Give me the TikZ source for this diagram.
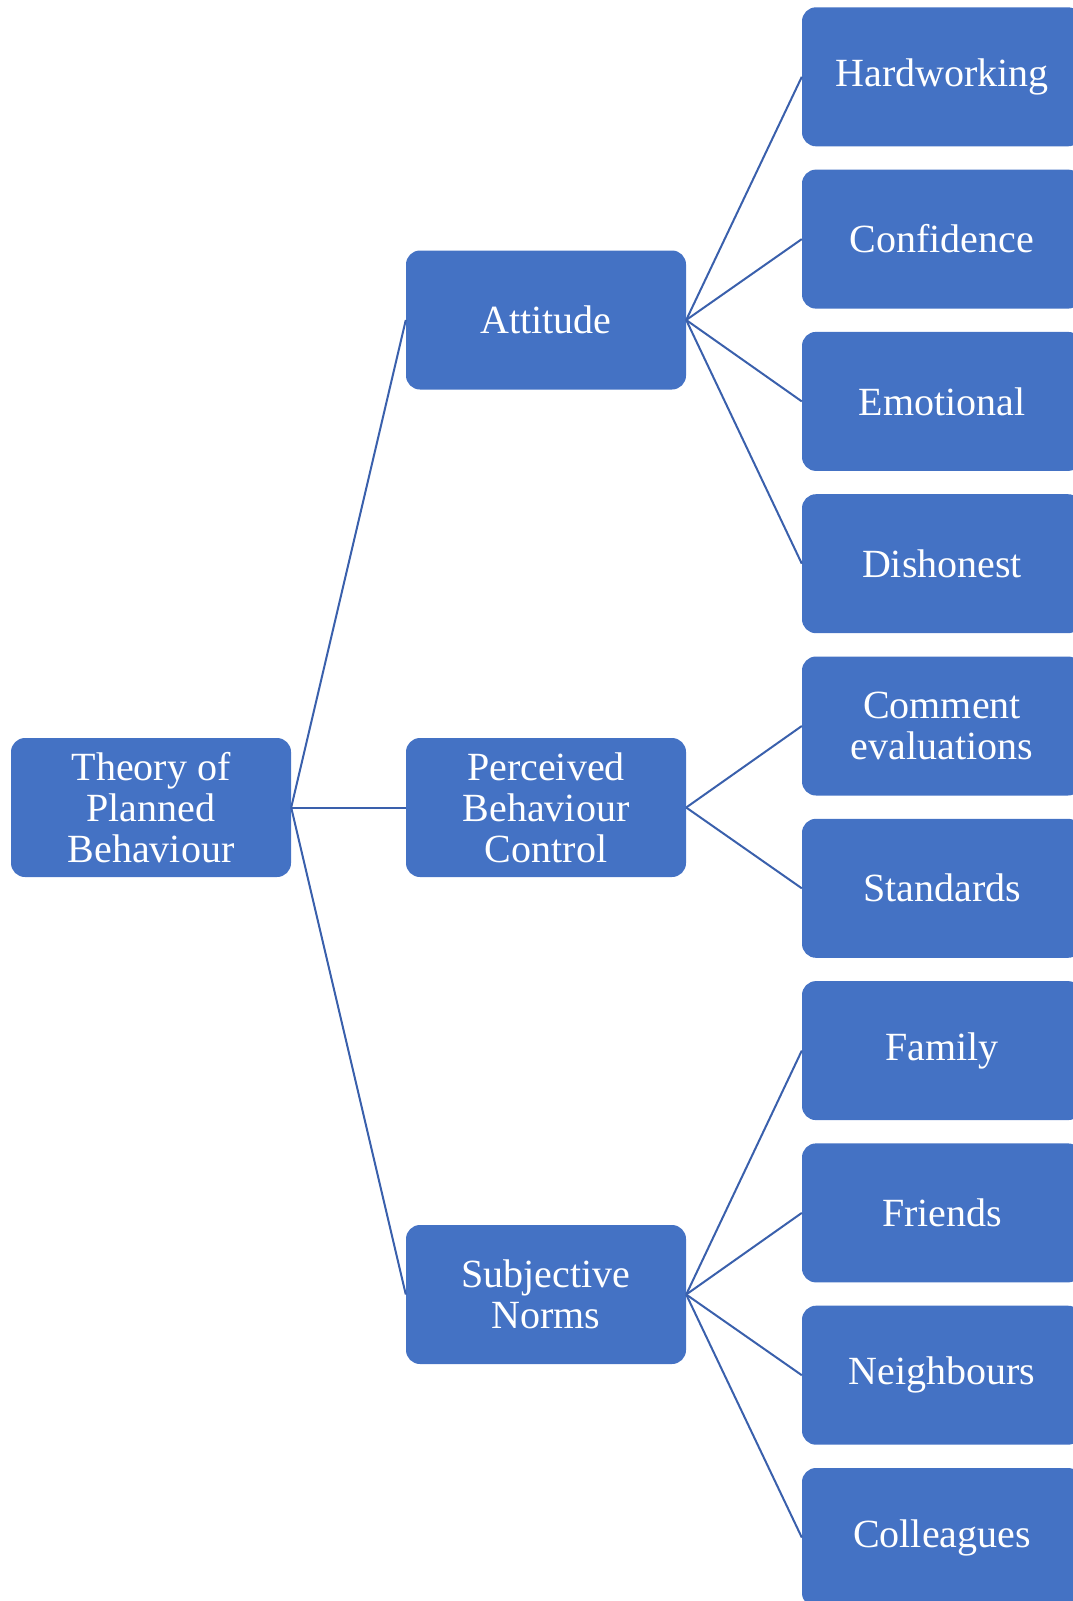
\documentclass[tikz,border=0pt]{standalone}
\usepackage{fontspec}
\setmainfont{Liberation Serif}
\usepackage{xcolor}
\definecolor{boxblue}{HTML}{4472C4}
\definecolor{linkblue}{HTML}{3A60AC}

\tikzset{
  tpbbox/.style={rectangle,rounded corners=14pt,fill=boxblue,text=white,
    minimum width=280pt,minimum height=139pt,inner sep=0pt,align=center,
    font=\fontsize{40}{41}\selectfont},
  link/.style={linkblue,line width=2pt}
}

\begin{document}
\begin{tikzpicture}[x=1pt,y=-1pt]
  \useasboundingbox (0,0) rectangle (1073,1601);
  \clip (0,0) rectangle (1073,1601);

  % Root and the three constructs
  \node[tpbbox] (root) at (151,807.5) {Theory of\\Planned\\Behaviour};
  \node[tpbbox] (att) at (546,320) {Attitude};
  \node[tpbbox] (pbc) at (546,807.5) {Perceived\\Behaviour\\Control};
  \node[tpbbox] (sn) at (546,1294.5) {Subjective\\Norms};

  % Leaf boxes (cut off at the right edge)
  \foreach \n/\y/\t in {hard/76.8/Hardworking, conf/239.1/Confidence,
      emo/401.4/Emotional, dish/563.7/Dishonest,
      comm/726/{Comment\\evaluations}, stand/888.3/Standards,
      fam/1050.6/Family, friends/1212.9/Friends,
      neigh/1375.2/Neighbours, coll/1537.5/Colleagues} {
    \node[tpbbox] (\n) at (942,\y) {\t};
  }

  % Connectors
  \foreach \p/\c in {root/att, root/pbc, root/sn,
      att/hard, att/conf, att/emo, att/dish,
      pbc/comm, pbc/stand,
      sn/fam, sn/friends, sn/neigh, sn/coll} {
    \draw[link] (\p.east) -- (\c.west);
  }
\end{tikzpicture}
\end{document}
